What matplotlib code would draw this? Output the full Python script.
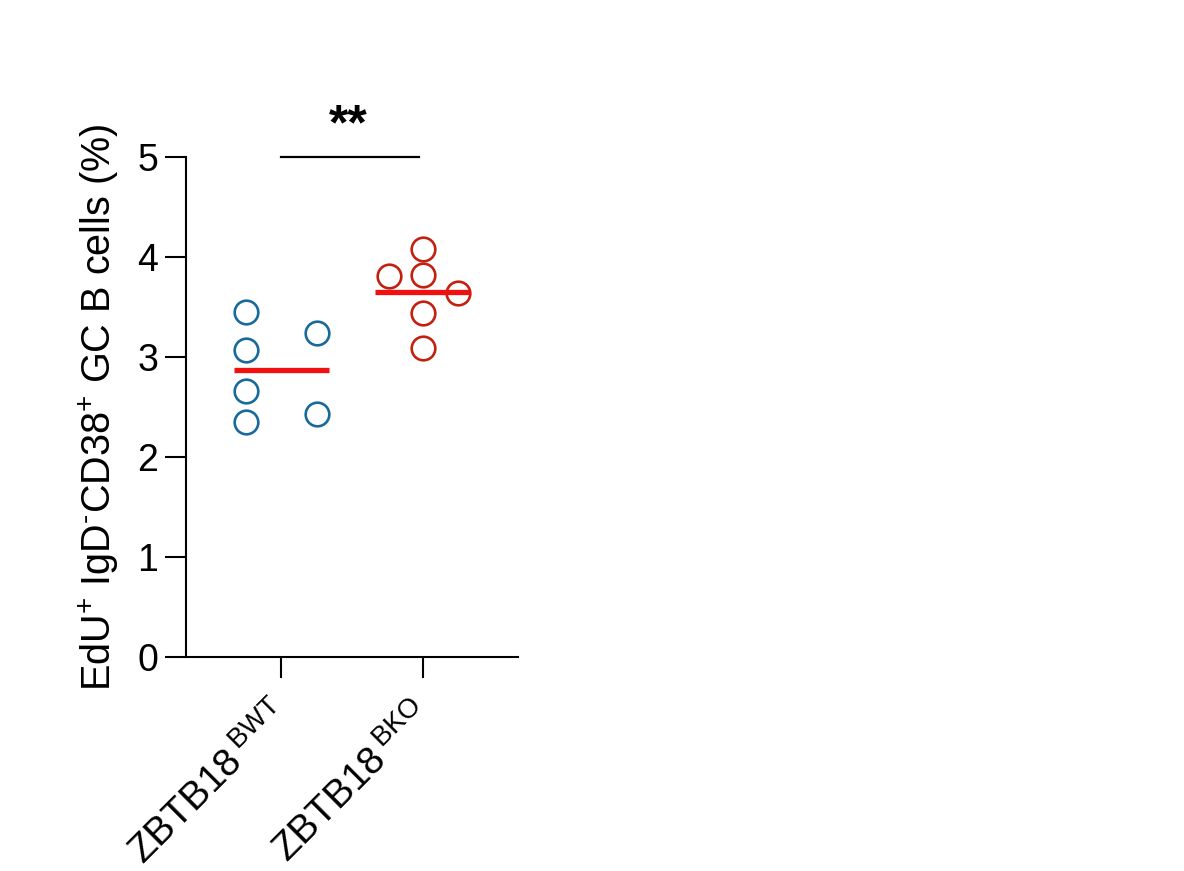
import matplotlib
matplotlib.use("Agg")
import numpy as np
from matplotlib import pyplot as plt
from matplotlib import transforms

plt.rcParams["font.family"] = ["Liberation Sans", "DejaVu Sans"]
plt.rcParams["mathtext.fontset"] = "custom"
plt.rcParams["mathtext.rm"] = "Liberation Sans"
plt.rcParams["mathtext.it"] = "Liberation Sans:italic"
plt.rcParams["mathtext.bf"] = "Liberation Sans:bold"

groups = [r"ZBTB18$\,^{\mathregular{BWT}}$", r"ZBTB18$\,^{\mathregular{BKO}}$"]
wt_values = [3.45, 3.07, 2.66, 2.35, 3.24, 2.43]
wt_offsets = [-0.25, -0.25, -0.25, -0.25, 0.25, 0.25]
ko_values = [4.08, 3.82, 3.81, 3.64, 3.44, 3.09]
ko_offsets = [0.0, 0.0, -0.24, 0.245, 0.0, 0.0]
group_colors = ["#176a9b", "#c4200f"]
significance = "**"

fig = plt.figure(figsize=(11.84, 8.71), dpi=100)
ax = fig.add_axes([0.1571, 0.2457, 0.2804, 0.574])

for i, (vals, offs) in enumerate([(wt_values, wt_offsets), (ko_values, ko_offsets)]):
    ax.plot(
        np.array(offs) + i,
        vals,
        linestyle="none",
        marker="o",
        markersize=17,
        markerfacecolor="none",
        markeredgecolor=group_colors[i],
        markeredgewidth=1.9,
        clip_on=False,
        zorder=3,
    )
    mean = np.mean(vals)
    ax.plot([i - 0.335, i + 0.335], [mean, mean], color="#f01010", lw=3.8,
            solid_capstyle="butt", zorder=4)

# significance bar
ax.plot([0, 0.97], [5.0, 5.0], color="black", lw=1.6, clip_on=False)
ax.text(0.475, 5.31, significance, ha="center", va="center", fontsize=36,
        fontweight="bold")

ax.set_xlim(-0.67, 1.67)
ax.set_ylim(0, 5)
ax.set_yticks([0, 1, 2, 3, 4, 5])
ax.set_xticks([0, 1])
ax.set_xticklabels([])

# rotated group labels, nudged a little left of the ticks
base = transforms.blended_transform_factory(ax.transData, ax.transAxes)
shift = transforms.ScaledTranslation(-0.1, -0.39, fig.dpi_scale_trans)
for i, name in enumerate(groups):
    ax.text(i, 0, name, transform=base + shift, rotation=45, ha="right",
            va="top", rotation_mode="anchor", fontsize=28)

ax.tick_params(axis="y", labelsize=27, length=15, width=1.5, pad=5)
ax.tick_params(axis="x", length=15, width=1.5)
ax.set_ylabel(r"EdU$^{+}$ IgD$^{\text{-}}$CD38$^{+}$ GC B cells (%)",
              fontsize=28.5, labelpad=12)

for side in ["top", "right"]:
    ax.spines[side].set_visible(False)
for side in ["left", "bottom"]:
    ax.spines[side].set_linewidth(1.5)

fig.savefig("out.png", dpi=100)
